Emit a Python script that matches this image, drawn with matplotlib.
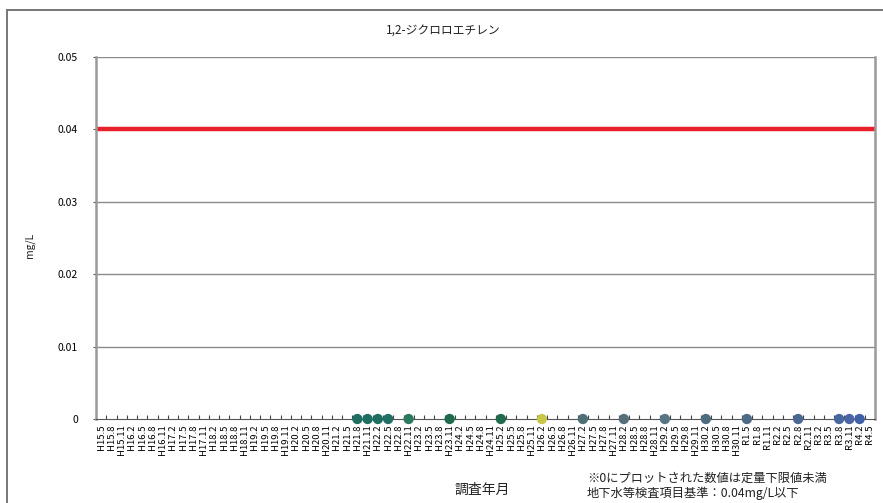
"""1,2-ジクロロエチレン 地下水調査結果のグラフ（定量下限値未満は0としてプロット）"""
import matplotlib.pyplot as plt
from matplotlib.lines import Line2D

plt.rcParams["font.family"] = ["Noto Sans CJK JP", "DejaVu Sans"]

# 調査年月（横軸のカテゴリ）
survey_dates = [
    "H15.5", "H15.8", "H15.11",
    "H16.2", "H16.5", "H16.8", "H16.11",
    "H17.2", "H17.5", "H17.8", "H17.11",
    "H18.2", "H18.5", "H18.8", "H18.11",
    "H19.2", "H19.5", "H19.8", "H19.11",
    "H20.2", "H20.5", "H20.8", "H20.11",
    "H21.2", "H21.5", "H21.8", "H21.11",
    "H22.2", "H22.5", "H22.8", "H22.11",
    "H23.2", "H23.5", "H23.8", "H23.11",
    "H24.2", "H24.5", "H24.8", "H24.11",
    "H25.2", "H25.5", "H25.8", "H25.11",
    "H26.2", "H26.5", "H26.8", "H26.11",
    "H27.2", "H27.5", "H27.8", "H27.11",
    "H28.2", "H28.5", "H28.8", "H28.11",
    "H29.2", "H29.5", "H29.8", "H29.11",
    "H30.2", "H30.5", "H30.8", "H30.11",
    "R1.5", "R1.8", "R1.11",
    "R2.2", "R2.5", "R2.8", "R2.11",
    "R3.2", "R3.5", "R3.8", "R3.11",
    "R4.2", "R4.5",
]

# 測定が行われた年月と測定値（mg/L、定量下限値未満は0）
measured_dates = [
    "H21.8", "H21.11", "H22.2", "H22.5", "H22.11", "H23.11", "H25.2",
    "H26.2", "H27.2", "H28.2", "H29.2", "H30.2", "R1.5", "R2.8",
    "R3.8", "R3.11", "R4.2",
]
measured_values = [0, 0, 0, 0, 0, 0, 0, 0, 0, 0, 0, 0, 0, 0, 0, 0, 0]
point_colors = [
    "#1f6e62", "#1f6e62", "#1f6e62", "#236f66", "#2a7a5e", "#1d6b4c",
    "#1f6b4e", "#c9c64a", "#4d6f76", "#55707a", "#587584", "#4e6c7e",
    "#4d6a86", "#4a6892", "#4866a0", "#4a64a4", "#3f5fa8",
]

guideline = 0.04  # 地下水等検査項目基準
y_ticks = [0, 0.01, 0.02, 0.03, 0.04, 0.05]
y_tick_labels = ["0", "0.01", "0.02", "0.03", "0.04", "0.05"]

fig = plt.figure(figsize=(8.83, 5.03), dpi=100)
ax = fig.add_axes([96 / 883, 1 - 419 / 503, 779 / 883, 362 / 503])

positions = {d: i for i, d in enumerate(survey_dates)}
xs = [positions[d] for d in measured_dates]

ax.set_xlim(-0.5, len(survey_dates) - 0.5)
ax.set_ylim(0, 0.05)

for y in y_ticks[1:]:
    ax.axhline(y, color="#8a8a8a", lw=1.0, zorder=1)
ax.axhline(guideline, color="#e8202a", lw=3.2, zorder=2)

ax.scatter(xs, measured_values, c=point_colors, s=55, marker="o",
           zorder=4, clip_on=False, edgecolors="none")

ax.set_yticks(y_ticks)
ax.set_yticklabels(y_tick_labels, fontsize=7.5)
ax.tick_params(axis="y", length=2, pad=11, color="#555555")

ax.set_xticks(range(len(survey_dates)))
ax.set_xticklabels(survey_dates, rotation=90, fontsize=6.8)
ax.set_xticks([i + 0.5 for i in range(len(survey_dates) - 1)], minor=True)
ax.tick_params(axis="x", which="major", length=0, pad=4)
ax.tick_params(axis="x", which="minor", length=3, direction="in",
               color="#444444", width=0.8)

for side in ("left", "right"):
    ax.spines[side].set_color("#9a9a9a")
    ax.spines[side].set_linewidth(1.8)
ax.spines["top"].set_visible(False)
ax.spines["bottom"].set_color("#555555")
ax.spines["bottom"].set_linewidth(0.8)

fig.text(443 / 883, 1 - 30 / 503, "1,2-ジクロロエチレン", ha="center",
         va="center", fontsize=8.5, color="#222222")
fig.text(30 / 883, 1 - 245 / 503, "mg/L", rotation=90, ha="center",
         va="center", fontsize=7.5, color="#222222")
fig.text(482 / 883, 1 - 490 / 503, "調査年月", ha="center", va="center",
         fontsize=10, color="#222222")
fig.text(587 / 883, 1 - 478 / 503, "※0にプロットされた数値は定量下限値未満",
         ha="left", va="center", fontsize=8.8, color="#222222")
fig.text(587 / 883, 1 - 493 / 503, "地下水等検査項目基準：0.04mg/L以下",
         ha="left", va="center", fontsize=8.8, color="#222222")

# 外枠
fig.add_artist(Line2D([7 / 883, 1], [1 - 10 / 503] * 2, color="#777777", lw=1.4))
fig.add_artist(Line2D([7 / 883] * 2, [0, 1 - 10 / 503], color="#777777", lw=1.4))

fig.savefig("out.png", dpi=100)
